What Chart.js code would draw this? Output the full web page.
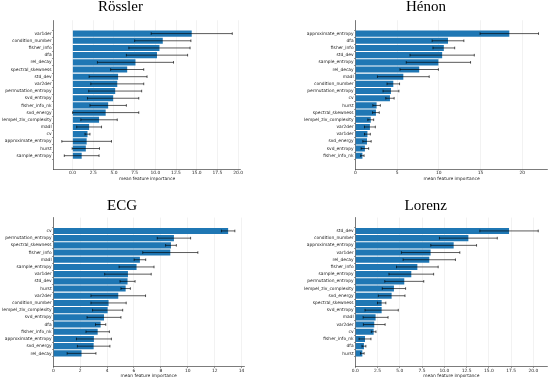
<!DOCTYPE html>
<html><head><meta charset="utf-8">
<script src="https://cdn.jsdelivr.net/npm/chart.js@4.4.1/dist/chart.umd.min.js"></script>
<style>
html,body{margin:0;padding:0;background:#fff;width:550px;height:382px;overflow:hidden;position:relative;}
canvas{position:absolute;}
</style></head><body>
<canvas id="c0" width="248" height="185" style="left:0px;top:0px"></canvas>
<canvas id="c1" width="244" height="185" style="left:304px;top:0px"></canvas>
<canvas id="c2" width="247" height="184" style="left:0px;top:198px"></canvas>
<canvas id="c3" width="244" height="184" style="left:304px;top:198px"></canvas>
<script>
// ---- data ----
const rosslerFeatures = ['var1der','condition_number','fisher_info','dfa','rel_decay','spectral_skewness','std_dev','var2der','permutation_entropy','svd_entropy','fisher_info_nk','svd_energy','lempel_ziv_complexity','madl','cv','approximate_entropy','hurst','sample_entropy'];
const rosslerMeans = [14.4,10.9,10.5,10.2,7.6,6.6,5.5,5.4,5.15,4.9,4.3,4.0,3.2,2.0,1.8,1.7,1.6,1.1];
const rosslerErrors = [4.9,3.4,3.7,3.7,4.6,2.0,3.5,3.2,3.2,3.1,2.2,4.0,2.2,1.5,0.3,3.0,1.65,2.1];

const henonFeatures = ['approximate_entropy','dfa','fisher_info','std_dev','sample_entropy','rel_decay','madl','condition_number','permutation_entropy','cv','hurst','spectral_skewness','lempel_ziv_complexity','var2der','var1der','svd_energy','svd_entropy','fisher_info_nk'];
const henonMeans = [18.44,11.1,10.6,10.4,9.95,7.65,5.75,4.55,4.27,4.15,2.55,2.47,1.85,1.75,1.45,1.4,1.15,0.85];
const henonErrors = [3.5,1.9,1.3,3.85,3.85,2.3,3.1,0.75,0.95,0.5,0.45,0.4,0.35,0.65,0.35,0.5,0.45,0.2];

const ecgFeatures = ['cv','permutation_entropy','spectral_skewness','fisher_info','madl','sample_entropy','var1der','std_dev','hurst','var2der','condition_number','lempel_ziv_complexity','svd_entropy','dfa','fisher_info_nk','approximate_entropy','svd_energy','rel_decay'];
const ecgMeans = [13.0,8.97,8.75,8.7,6.44,6.19,5.55,5.52,5.38,4.83,4.11,4.04,3.77,3.52,3.3,3.02,3.0,2.1];
const ecgErrors = [0.5,1.24,0.4,2.05,0.43,1.3,1.73,0.56,0.35,2.03,1.31,1.12,1.26,0.38,0.87,1.3,1.21,1.07];

const lorenzFeatures = ['std_dev','condition_number','approximate_entropy','var1der','rel_decay','fisher_info','sample_entropy','permutation_entropy','lempel_ziv_complexity','svd_energy','spectral_skewness','svd_entropy','madl','var2der','cv','fisher_info_nk','dfa','hurst'];
const lorenzMeans = [17.27,12.7,11.05,8.46,8.31,6.97,6.29,5.5,4.34,4.08,2.96,2.96,2.28,2.13,2.06,1.09,0.97,0.79];
const lorenzErrors = [3.28,3.25,2.57,3.28,2.94,2.34,2.51,2.19,1.31,1.5,0.47,1.87,1.4,1.22,0.26,0.67,0.22,0.2];

const titles = ['Rössler','Hénon','ECG','Lorenz'];
const xLabel = 'mean feature importance';

// ---- drawing ----
function errorPlugin(means, errs){
  return {
    id: 'errorBars',
    afterDatasetsDraw(chart){
      const xs = chart.scales.x, ys = chart.scales.y, ctx = chart.ctx;
      ctx.save();
      ctx.strokeStyle = 'rgba(0,0,0,0.72)';
      ctx.lineWidth = 0.9;
      means.forEach((m,i)=>{
        const y = ys.getPixelForValue(i);
        const a = xs.getPixelForValue(m - errs[i]);
        const b = xs.getPixelForValue(m + errs[i]);
        ctx.beginPath();
        ctx.moveTo(a,y); ctx.lineTo(b,y);
        ctx.moveTo(a,y-1.3); ctx.lineTo(a,y+1.3);
        ctx.moveTo(b,y-1.3); ctx.lineTo(b,y+1.3);
        ctx.stroke();
      });
      ctx.restore();
    }
  };
}

const tickFont = {family:'DejaVu Sans', size:4.4};
function makeChart(id, title, names, means, errs, cfg){
  const n = names.length;
  return new Chart(document.getElementById(id), {
    type:'bar',
    data:{datasets:[{
      data: means.map((v,i)=>({x:v, y:i})),
      backgroundColor:'#1f77b4', borderWidth:0,
      barPercentage:0.85, categoryPercentage:1
    }]},
    options:{
      indexAxis:'y', responsive:false, animation:false, devicePixelRatio:1, events:[],
      layout:{padding:{left:0, right:cfg.padR, top:cfg.padT, bottom:cfg.padB}},
      plugins:{
        legend:{display:false}, tooltip:{enabled:false},
        title:{display:true, text:title, color:'#000',
          font:{family:'Liberation Serif', size:15, lineHeight:1, weight:'normal'},
          padding:{top:0, bottom:cfg.titleGap}}
      },
      scales:{
        x:{type:'linear', position:'bottom', min:cfg.xmin, max:cfg.xmax,
          ticks:{stepSize:cfg.step, includeBounds:false, maxRotation:0, autoSkip:false,
            font:tickFont, color:'#222', padding:0.3,
            callback:v=>v.toFixed(cfg.dec)},
          grid:{color:'rgba(0,0,0,0.09)', lineWidth:0.6, drawTicks:true, tickLength:1.3, tickColor:'#555', tickWidth:0.6},
          border:{display:true, color:'#444', width:0.7},
          title:{display:true, text:xLabel, font:tickFont, color:'#222', padding:{top:0,bottom:cfg.xtitlePad}},
          afterFit:s=>{s.height=15;}
        },
        y:{type:'linear', reverse:true, min:-1.29, max:n-1+1.29, bounds:'data',
          afterBuildTicks:s=>{s.ticks = names.map((_,i)=>({value:i}));},
          ticks:{autoSkip:false, font:tickFont, color:'#222', padding:0.4, callback:v=>names[v]},
          grid:{drawOnChartArea:false, drawTicks:true, tickLength:1.3, tickColor:'#555', tickWidth:0.6},
          border:{display:true, color:'#444', width:0.7},
          afterFit:s=>{s.width=cfg.yw;}
        }
      }
    },
    plugins:[errorPlugin(means, errs)]
  });
}

makeChart('c0', titles[0], rosslerFeatures, rosslerMeans, rosslerErrors,
  {padR:7.2, padT:0, padB:0.9, titleGap:5.2, xmin:-2.33, xmax:20.33, step:2.5, dec:1, xtitlePad:2.46, yw:53.3});
makeChart('c1', titles[1], henonFeatures, henonMeans, henonErrors,
  {padR:0.2, padT:0, padB:0.9, titleGap:5.2, xmin:0, xmax:23.05, step:5, dec:0, xtitlePad:2.46, yw:51.3});
makeChart('c2', titles[2], ecgFeatures, ecgMeans, ecgErrors,
  {padR:3, padT:0.5, padB:0.2, titleGap:4, xmin:0, xmax:14.18, step:2, dec:0, xtitlePad:2.86, yw:53.3});
makeChart('c3', titles[3], lorenzFeatures, lorenzMeans, lorenzErrors,
  {padR:0.5, padT:0.5, padB:0.2, titleGap:4, xmin:0, xmax:21.59, step:2.5, dec:1, xtitlePad:2.86, yw:51.3});
</script>
</body></html>
